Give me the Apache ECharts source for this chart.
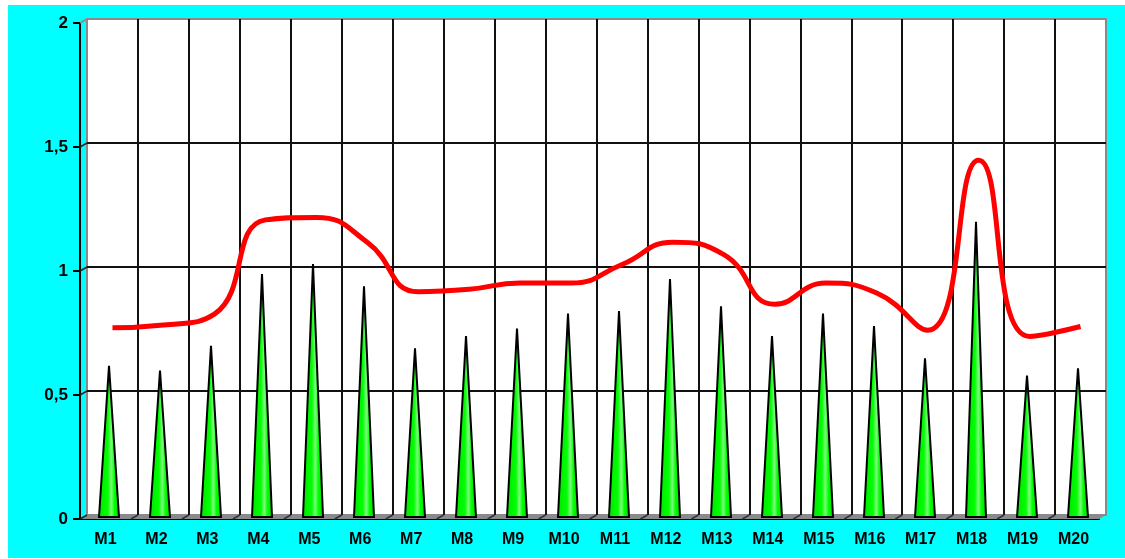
<!DOCTYPE html>
<html>
<head>
<meta charset="utf-8">
<script src="https://cdn.jsdelivr.net/npm/echarts@6/dist/echarts.min.js"></script>
<style>
  html, body { margin: 0; padding: 0; background: #fff; }
  #main { position: absolute; left: 8px; top: 5px; width: 1117px; height: 553px; background: #00ffff; }
</style>
</head>
<body>
<div id="main"></div>
<script>
// data
var months = ['M1', 'M2', 'M3', 'M4', 'M5', 'M6', 'M7', 'M8', 'M9', 'M10',
    'M11', 'M12', 'M13', 'M14', 'M15', 'M16', 'M17', 'M18', 'M19', 'M20'];
var coneValues = [0.61, 0.59, 0.69, 0.98, 1.02, 0.93, 0.68, 0.73, 0.76, 0.82,
    0.83, 0.96, 0.85, 0.73, 0.82, 0.77, 0.64, 1.19, 0.57, 0.60];
var lineValues = [0.755, 0.766, 0.81, 1.19, 1.20, 1.10, 0.90, 0.91, 0.935, 0.935,
    1.01, 1.10, 1.05, 0.85, 0.935, 0.895, 0.745, 1.43, 0.72, 0.76];
var yTicks = [0, 0.5, 1, 1.5, 2];

// layout (chart coords, div is 1117x553)
var W = 1117, H = 553;
var G0 = { left: 72, right: 26, top: 18, bottom: 39 };     // front axes
var G1 = { left: 79, right: 19, top: 14, bottom: 43 };     // back wall
var G2 = { left: 75.5, right: 21.5, top: 16, bottom: 41 };  // cones
var coneHalf = 10;

var chart = echarts.init(document.getElementById('main'));

function coneFill() {
    return new echarts.graphic.LinearGradient(0, 0, 1, 0, [
        { offset: 0, color: '#00e600' },
        { offset: 0.45, color: '#00ff00' },
        { offset: 0.6, color: '#7dff7d' },
        { offset: 0.75, color: '#00ff00' },
        { offset: 1, color: '#00d400' }
    ]);
}

var option = {
    animation: false,
    grid: [
        { left: G0.left, right: G0.right, top: G0.top, bottom: G0.bottom },
        {
            left: G1.left, right: G1.right, top: G1.top, bottom: G1.bottom,
            show: true, backgroundColor: '#fff', borderColor: '#8a8a8a', borderWidth: 2
        },
        { left: G2.left, right: G2.right, top: G2.top, bottom: G2.bottom }
    ],
    xAxis: [
        {
            gridIndex: 0, type: 'category', data: months,
            axisLine: { lineStyle: { color: '#000', width: 2 } },
            axisTick: { length: 8, lineStyle: { color: '#000', width: 2 } },
            axisLabel: {
                margin: 13, color: '#000', fontSize: 16, fontWeight: 'bold',
                fontFamily: 'Liberation Sans, Arial, sans-serif'
            }
        },
        {
            gridIndex: 1, type: 'category', data: months,
            axisLine: { show: false }, axisTick: { show: false }, axisLabel: { show: false },
            splitLine: {
                show: true, showMinLine: false, showMaxLine: false,
                lineStyle: { color: '#111', width: 2 }
            }
        },
        {
            gridIndex: 2, type: 'category', data: months, show: false
        }
    ],
    yAxis: [
        {
            gridIndex: 0, type: 'value', min: 0, max: 2, interval: 0.5,
            axisLine: { show: true, lineStyle: { color: '#000', width: 2 } },
            axisTick: { show: true, length: 7, lineStyle: { color: '#000', width: 2 } },
            splitLine: { show: false },
            axisLabel: {
                margin: 12, color: '#000', fontSize: 17, fontWeight: 'bold',
                fontFamily: 'Liberation Sans, Arial, sans-serif',
                formatter: function (v) { return String(v).replace('.', ','); }
            }
        },
        {
            gridIndex: 1, type: 'value', min: 0, max: 2, interval: 0.5,
            axisLine: { show: false }, axisTick: { show: false }, axisLabel: { show: false },
            splitLine: {
                show: true, showMinLine: false, showMaxLine: false,
                lineStyle: { color: '#111', width: 2 }
            }
        },
        {
            gridIndex: 2, type: 'value', min: 0, max: 2, show: false
        }
    ],
    series: [
        {
            name: 'cones',
            type: 'custom',
            xAxisIndex: 2, yAxisIndex: 2,
            data: coneValues.map(function (v, i) { return [i, v]; }),
            renderItem: function (params, api) {
                var base = api.coord([api.value(0), 0]);
                var top = api.coord([api.value(0), api.value(1)]);
                return {
                    type: 'polygon',
                    shape: { points: [[base[0] - coneHalf, base[1]], [top[0], top[1]], [base[0] + coneHalf, base[1]]] },
                    style: { fill: coneFill(), stroke: '#000', lineWidth: 2, lineJoin: 'miter' }
                };
            },
            z: 3
        },
        {
            name: 'line',
            type: 'line',
            xAxisIndex: 1, yAxisIndex: 1,
            data: lineValues,
            smooth: 0.5,
            symbol: 'none',
            lineStyle: { color: '#ff0000', width: 5 },
            z: 4
        }
    ]
};
chart.setOption(option);

// 3D-look frame: floor, wall connectors
var deco = [];
var floorY0 = H - G0.bottom, floorY1 = H - G1.bottom;
deco.push({
    type: 'polygon', z: 1, silent: true,
    shape: { points: [[G0.left, floorY0], [W - G0.right, floorY0], [W - G1.right, floorY1], [G1.left, floorY1]] },
    style: { fill: '#8a8a8a' }
});
yTicks.forEach(function (v) {
    var a = chart.convertToPixel({ yAxisIndex: 0 }, v);
    var b = chart.convertToPixel({ yAxisIndex: 1 }, v);
    deco.push({
        type: 'line', z: 5, silent: true,
        shape: { x1: G0.left, y1: a, x2: G1.left, y2: b },
        style: { stroke: v === 2 ? '#8a8a8a' : '#222', lineWidth: 1.5 }
    });
});
for (var i = 1; i < months.length; i++) {
    var step0 = (W - G0.left - G0.right) / months.length;
    var step1 = (W - G1.left - G1.right) / months.length;
    deco.push({
        type: 'line', z: 2, silent: true,
        shape: { x1: G0.left + i * step0, y1: floorY0, x2: G1.left + i * step1, y2: floorY1 },
        style: { stroke: '#333', lineWidth: 1.5 }
    });
}
chart.setOption({ graphic: deco });
</script>
</body>
</html>
